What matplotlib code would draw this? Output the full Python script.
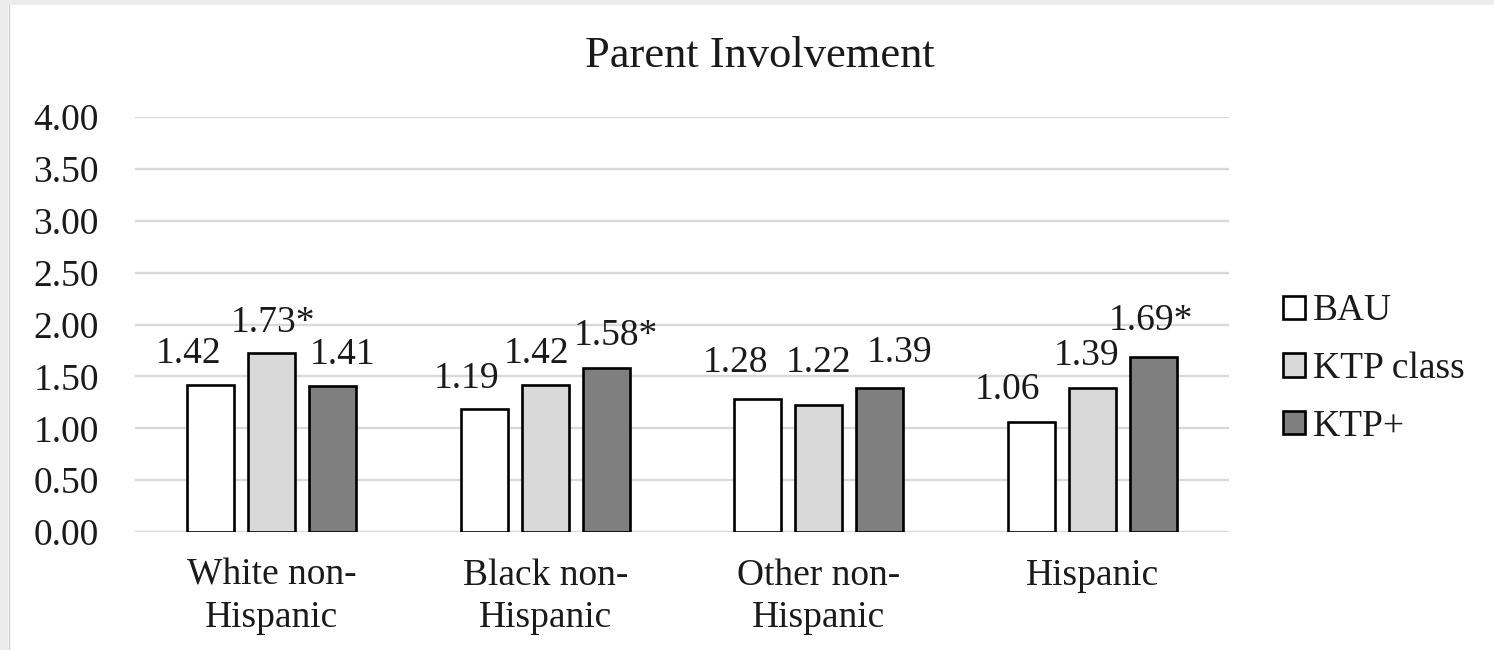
import matplotlib
matplotlib.use("Agg")
import matplotlib.pyplot as plt
import numpy as np
from matplotlib.patches import Rectangle
from matplotlib.lines import Line2D

plt.rcParams["font.family"] = ["Liberation Serif", "DejaVu Serif"]

# ---- data ----
categories = ["White non-\nHispanic", "Black non-\nHispanic", "Other non-\nHispanic", "Hispanic"]
series_names = ["BAU", "KTP class", "KTP+"]
bau = [1.42, 1.19, 1.28, 1.06]
ktp_class = [1.73, 1.42, 1.22, 1.39]
ktp_plus = [1.41, 1.58, 1.39, 1.69]
significant = [[False, False, False, False],
               [True, False, False, False],
               [False, True, False, True]]
y_ticks = [0.0, 0.5, 1.0, 1.5, 2.0, 2.5, 3.0, 3.5, 4.0]
title = "Parent Involvement"

# ---- styling ----
colors = ["#ffffff", "#d9d9d9", "#7f7f7f"]
# per-label nudges (pixels) keeping neighbouring value labels apart
label_nudge = [
    [(-22, 22), (-18, 21), (-22, 27), (-24, 23)],
    [(1, 21), (-9, 22), (0, 33), (-6, 23)],
    [(10, 22), (10, 23), (20, 26), (-2, 27)],
]
fs = 27

W, H = 1494, 650
fig = plt.figure(figsize=(W / 100, H / 100), dpi=100)
fig.patch.set_facecolor("white")

ax = fig.add_axes([135 / W, 1 - 532 / H, (1229 - 135) / W, (532 - 117) / H])
x = np.arange(len(categories))
bar_w = 0.172
step = 0.223
series = [bau, ktp_class, ktp_plus]

for i, (name, vals, col) in enumerate(zip(series_names, series, colors)):
    pos = x + (i - 1) * step
    ax.bar(pos, vals, width=bar_w, color=col, edgecolor="black",
           linewidth=1.9, label=name, zorder=3)
    for j, (p, v) in enumerate(zip(pos, vals)):
        txt = f"{v:.2f}" + ("*" if significant[i][j] else "")
        dx, dy = label_nudge[i][j]
        ax.annotate(txt, (p, v), xytext=(dx, dy), textcoords="offset pixels",
                    ha="center", va="baseline", fontsize=fs, color="#1a1a1a",
                    zorder=4)

ax.set_xlim(-0.5, len(categories) - 0.5)
ax.set_ylim(0, 4)
ax.set_yticks(y_ticks)
ax.set_yticklabels([f"{t:.2f}" for t in y_ticks])
ax.set_xticks(x)
ax.set_xticklabels(categories, linespacing=1.3)
ax.tick_params(axis="both", length=0, labelsize=fs, colors="#1a1a1a")
ax.tick_params(axis="y", pad=26)
ax.tick_params(axis="x", pad=19)
ax.yaxis.grid(True, color="#d9d9d9", linewidth=1.7, zorder=0)
ax.set_axisbelow(True)
for s in ax.spines.values():
    s.set_visible(False)

fig.text(760 / W, 1 - 67 / H, title, ha="center", va="baseline",
         fontsize=32, color="#1a1a1a")

leg = fig.legend(loc="upper left", bbox_to_anchor=(1283 / W, 1 - 294 / H),
                 frameon=False, fontsize=fs, handlelength=0.58, handleheight=0.58,
                 handletextpad=0.22, labelspacing=0.62, borderaxespad=0,
                 borderpad=0)
for h in leg.legend_handles:
    h.set_linewidth(1.9)
for t in leg.get_texts():
    t.set_color("#1a1a1a")

# light grey frame along the top and left edges
fig.patches.append(Rectangle((0, 1 - 5 / H), 1, 5 / H, transform=fig.transFigure,
                             facecolor="#ececec", edgecolor="none", zorder=0))
fig.patches.append(Rectangle((0, 0), 8 / W, 1, transform=fig.transFigure,
                             facecolor="#ececec", edgecolor="none", zorder=0))
fig.lines.append(Line2D([8.5 / W, 8.5 / W], [0, 1 - 5 / H], transform=fig.transFigure,
                        color="#cfcfcf", linewidth=1))

fig.savefig("out.png", dpi=100)
